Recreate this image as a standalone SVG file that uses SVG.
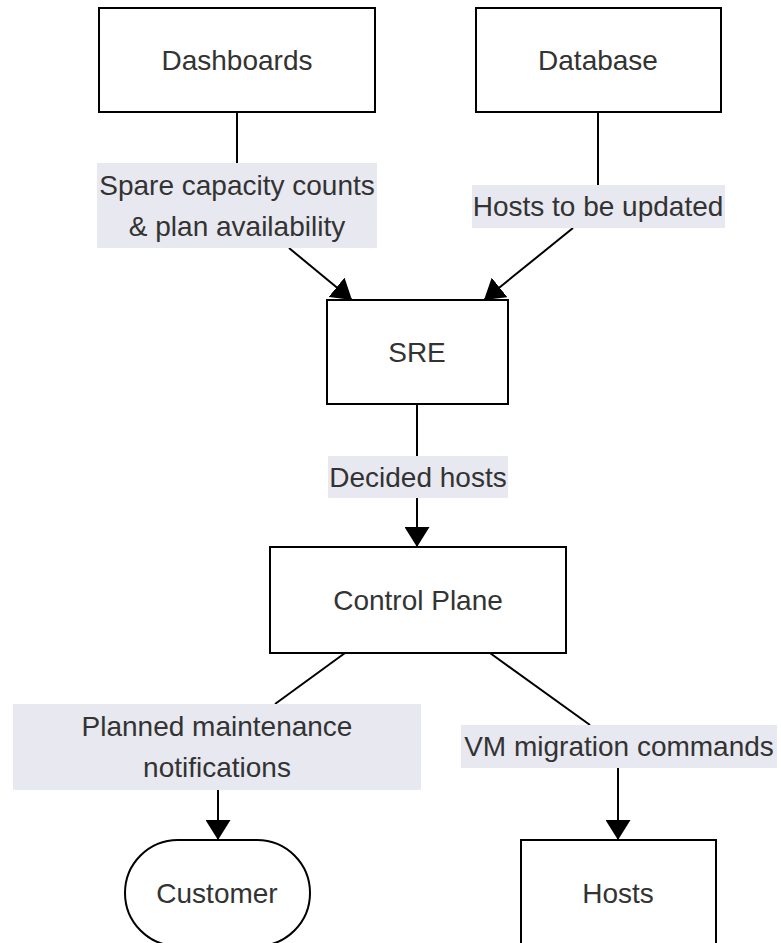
<svg xmlns="http://www.w3.org/2000/svg" width="781" height="943" viewBox="0 0 781 943">
  <style>
    .node rect { fill: #ffffff; stroke: #000000; stroke-width: 2; }
    .label-bg { fill: #e8e8f0; }
    text { font-family: "Liberation Sans", Arial, sans-serif; font-size: 28px; fill: #333333; text-anchor: middle; dominant-baseline: central; }
    .edge { fill: none; stroke: #000000; stroke-width: 2; }
  </style>
  <defs>
    <marker id="arrow" markerUnits="userSpaceOnUse" markerWidth="20" markerHeight="25" viewBox="0 0 20 25" refX="20" refY="12.5" orient="auto">
      <path d="M0,0 L20,12.5 L0,25 z" fill="#000000"/>
    </marker>
  </defs>

  <!-- Connectors with their labels -->
  <g id="edges">
    <path class="edge" d="M237,112 L237,163"/>
    <path class="edge" d="M289,248 L352,300" marker-end="url(#arrow)"/>
    <path class="edge" d="M598,112 L598,185"/>
    <path class="edge" d="M573,228 L484,300" marker-end="url(#arrow)"/>
    <path class="edge" d="M417,404 L417,456"/>
    <path class="edge" d="M417,498 L417,547" marker-end="url(#arrow)"/>
    <path class="edge" d="M345,653 L275,704"/>
    <path class="edge" d="M218,790 L218,840" marker-end="url(#arrow)"/>
    <path class="edge" d="M490,653 L590,725"/>
    <path class="edge" d="M618,768 L618,840" marker-end="url(#arrow)"/>

    <g id="label-capacity">
      <rect class="label-bg" x="97" y="163" width="280" height="85"/>
      <text x="237" y="185">Spare capacity counts</text>
      <text x="237" y="226">&amp; plan availability</text>
    </g>
    <g id="label-hosts-update">
      <rect class="label-bg" x="472" y="185" width="253" height="43"/>
      <text x="598" y="206">Hosts to be updated</text>
    </g>
    <g id="label-decided">
      <rect class="label-bg" x="328" y="456" width="180" height="42"/>
      <text x="418" y="477">Decided hosts</text>
    </g>
    <g id="label-maintenance">
      <rect class="label-bg" x="13" y="704" width="408" height="86"/>
      <text x="217" y="726">Planned maintenance</text>
      <text x="217" y="767">notifications</text>
    </g>
    <g id="label-migration">
      <rect class="label-bg" x="461" y="725" width="316" height="43"/>
      <text x="619" y="746">VM migration commands</text>
    </g>
  </g>

  <!-- Nodes -->
  <g id="dashboards" class="node">
    <rect x="99" y="8" width="276" height="104"/>
    <text x="237" y="60">Dashboards</text>
  </g>
  <g id="database" class="node">
    <rect x="476" y="8" width="245" height="104"/>
    <text x="598" y="60">Database</text>
  </g>
  <g id="sre" class="node">
    <rect x="327" y="300" width="181" height="104"/>
    <text x="417" y="352">SRE</text>
  </g>
  <g id="control-plane" class="node">
    <rect x="270" y="547" width="296" height="106"/>
    <text x="418" y="600">Control Plane</text>
  </g>
  <g id="customer" class="node">
    <rect x="125" y="840" width="185" height="106" rx="53" ry="53"/>
    <text x="217" y="893">Customer</text>
  </g>
  <g id="hosts" class="node">
    <rect x="521" y="840" width="195" height="112"/>
    <text x="618" y="893">Hosts</text>
  </g>
</svg>
